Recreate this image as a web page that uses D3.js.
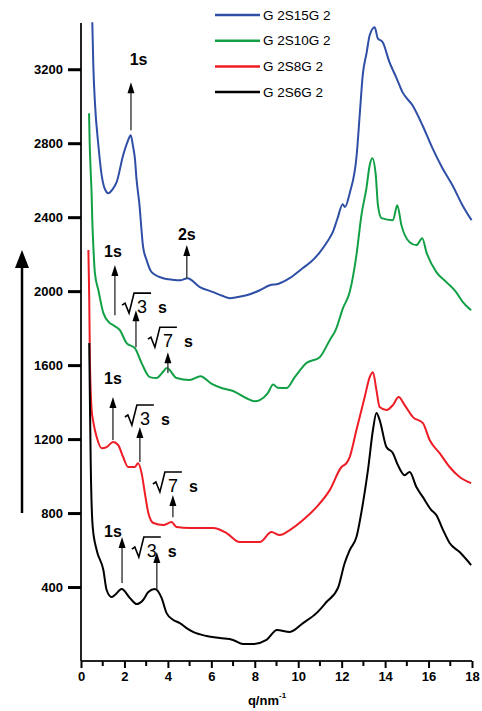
<!DOCTYPE html>
<html>
<head>
<meta charset="utf-8">
<script src="https://cdn.jsdelivr.net/npm/d3@7"></script>
<style>
  body { margin: 0; background: #fff; }
  svg { display: block; font-family: "Liberation Sans", Arial, sans-serif; }
</style>
</head>
<body>
<div id="chart"></div>
<script>
// series names (legend order)
const seriesNames = ["G 2S15G 2", "G 2S10G 2", "G 2S8G 2", "G 2S6G 2"];
const seriesColors = ["#2f4fa6", "#12a046", "#ee1c25", "#000000"];

// q (nm^-1), intensity
const g2s15g2 = [
  [0.52, 3454], [0.57, 3210], [0.64, 3022], [0.80, 2789], [0.95, 2627], [1.18, 2535],
  [1.26, 2530], [1.45, 2550], [1.64, 2589], [1.94, 2735], [2.15, 2810], [2.29, 2843],
  [2.40, 2780], [2.48, 2719], [2.56, 2600], [2.68, 2480], [2.86, 2238], [3.02, 2168],
  [3.25, 2103], [3.78, 2070], [4.2, 2062], [4.6, 2059], [4.9, 2070], [5.47, 2022],
  [6.08, 1995], [6.5, 1975], [6.85, 1962], [7.2, 1968], [7.62, 1978], [8.23, 2005],
  [8.69, 2032], [9.1, 2040], [9.6, 2070], [10.2, 2124], [10.6, 2160], [11.0, 2211],
  [11.35, 2270], [11.59, 2319], [11.8, 2390], [12.05, 2470], [12.15, 2455], [12.37, 2530],
  [12.69, 2735], [12.83, 2951], [12.97, 3168], [13.15, 3290], [13.29, 3384], [13.52, 3427],
  [13.66, 3368], [13.89, 3346], [14.2, 3238], [14.53, 3151], [14.8, 3076], [15.26, 3005],
  [15.72, 2897], [16.18, 2773], [16.64, 2665], [17.1, 2573], [17.56, 2465], [17.98, 2384]
];

const g2s10g2 = [
  [0.37, 2962], [0.40, 2800], [0.44, 2665], [0.49, 2519], [0.52, 2384], [0.57, 2238],
  [0.64, 2097], [0.80, 2005], [1.03, 1881], [1.33, 1827], [1.48, 1816], [1.79, 1789],
  [2.10, 1719], [2.48, 1692], [2.79, 1611], [3.17, 1535], [3.48, 1530], [3.75, 1560],
  [3.95, 1584], [4.4, 1530], [5.0, 1519], [5.5, 1540], [6.0, 1500], [6.5, 1475],
  [7.0, 1460], [7.6, 1422], [8.0, 1405], [8.23, 1411], [8.6, 1449], [8.85, 1495],
  [9.05, 1478], [9.46, 1476], [9.84, 1535], [10.38, 1611], [10.99, 1643], [11.45, 1735],
  [11.72, 1789], [12.06, 1908], [12.37, 1995], [12.68, 2195], [12.91, 2411], [13.14, 2557],
  [13.29, 2681], [13.41, 2719], [13.57, 2627], [13.67, 2465], [13.83, 2395], [14.36, 2384],
  [14.56, 2465], [14.75, 2357], [15.13, 2265], [15.44, 2249], [15.71, 2286], [15.90, 2211],
  [16.36, 2103], [16.82, 2049], [17.27, 1995], [17.58, 1941], [17.96, 1897]
];

const g2s8g2 = [
  [0.34, 2222], [0.38, 1951], [0.41, 1627], [0.49, 1357], [0.57, 1290], [0.72, 1211],
  [0.95, 1151], [1.18, 1157], [1.48, 1184], [1.71, 1168], [1.94, 1103], [2.17, 1049],
  [2.48, 1049], [2.63, 1070], [2.79, 1016], [2.94, 908], [3.10, 800], [3.33, 746],
  [3.79, 735], [4.17, 751], [4.40, 724], [5.01, 719], [5.62, 719], [6.08, 719],
  [6.70, 692], [7.31, 643], [8.08, 643], [8.23, 643], [8.77, 697], [9.15, 681],
  [9.61, 708], [10.22, 762], [10.84, 832], [11.45, 924], [11.99, 1049], [12.22, 1070],
  [12.37, 1103], [12.68, 1249], [13.06, 1427], [13.29, 1535], [13.44, 1562], [13.60, 1465],
  [13.75, 1373], [14.06, 1357], [14.36, 1384], [14.62, 1427], [14.90, 1384], [15.28, 1319],
  [15.74, 1286], [16.05, 1195], [16.51, 1124], [16.97, 1049], [17.43, 995], [17.96, 962]
];

const g2s6g2 = [
  [0.38, 1719], [0.41, 1411], [0.45, 1049], [0.54, 724], [0.72, 600], [1.03, 492],
  [1.18, 384], [1.41, 346], [1.56, 357], [1.87, 389], [2.25, 341], [2.56, 308],
  [2.86, 330], [3.10, 373], [3.40, 389], [3.71, 341], [3.94, 259], [4.25, 222],
  [4.55, 205], [4.86, 178], [5.16, 157], [5.78, 135], [6.39, 124], [7.00, 114],
  [7.46, 92], [7.92, 92], [8.54, 114], [9.02, 168], [9.61, 157], [10.22, 205],
  [10.84, 259], [11.30, 319], [11.83, 395], [12.14, 530], [12.37, 600], [12.68, 670],
  [12.98, 854], [13.21, 1032], [13.44, 1249], [13.60, 1341], [13.75, 1303], [14.06, 1157],
  [14.36, 1124], [14.59, 1059], [14.90, 1005], [15.13, 1022], [15.44, 941], [15.74, 886],
  [16.13, 816], [16.36, 789], [16.67, 708], [16.97, 638], [17.43, 589], [17.96, 519]
];

const seriesData = [g2s15g2, g2s10g2, g2s8g2, g2s6g2];

// peak markers: q, arrow base, arrow tip, root digit ("" = plain label), label q, label baseline
const peakMarks = [
  { q: 2.30, from: 2870, to: 3130, root: "", text: "1s", lq: 2.65, ly: 3222 },
  { q: 4.87, from: 2070, to: 2249, root: "", text: "2s", lq: 4.87, ly: 2276 },
  { q: 1.56, from: 1870, to: 2141, root: "", text: "1s", lq: 1.47, ly: 2184 },
  { q: 2.53, from: 1697, to: 1897, root: "3", text: "s", lq: 1.89, ly: 1881 },
  { q: 4.00, from: 1557, to: 1670, root: "7", text: "s", lq: 3.08, ly: 1697 },
  { q: 1.47, from: 1195, to: 1427, root: "", text: "1s", lq: 1.47, ly: 1497 },
  { q: 2.71, from: 1076, to: 1265, root: "3", text: "s", lq: 2.02, ly: 1276 },
  { q: 4.23, from: 778,  to: 897,  root: "7", text: "s", lq: 3.31, ly: 914 },
  { q: 1.89, from: 422,  to: 670,  root: "", text: "1s", lq: 1.47, ly: 670 },
  { q: 3.49, from: 389,  to: 589,  root: "3", text: "s", lq: 2.34, ly: 562 }
];

const yTicks = [400, 800, 1200, 1600, 2000, 2400, 2800, 3200];
const xTicks = [0, 2, 4, 6, 8, 10, 12, 14, 16, 18];

const W = 482, H = 711;
const svg = d3.select("#chart").append("svg")
  .attr("width", W).attr("height", H);

const x = d3.scaleLinear().domain([0, 18]).range([81, 472]);
const y = d3.scaleLinear().domain([0, 3450]).range([661, 23]);

// curves
const line = d3.line()
  .x(d => x(d[0])).y(d => y(d[1]))
  .curve(d3.curveMonotoneX);
svg.selectAll(".curve")
  .data(seriesData)
  .enter()
  .append("path")
  .attr("class", "curve")
  .attr("d", line)
  .attr("fill", "none")
  .attr("stroke", (d, i) => seriesColors[i])
  .attr("stroke-width", 2)
  .attr("stroke-linejoin", "round");

// y axis
const yAxis = svg.append("g")
  .attr("transform", `translate(${x(0)},0)`)
  .call(d3.axisLeft(y).tickValues(yTicks).tickSize(13).tickPadding(5).tickFormat(d3.format("d")));
yAxis.select(".domain").attr("stroke", "#222").attr("stroke-width", 2)
  .attr("d", `M0,${y(0)}V${y.range()[1]}`);
yAxis.selectAll(".tick line").attr("stroke", "#000").attr("stroke-width", 3);
yAxis.selectAll(".tick text")
  .style("font-size", "13px").style("font-weight", "bold").attr("fill", "#000");

// x axis
const xAxis = svg.append("g")
  .attr("transform", `translate(0,${y(0)})`)
  .call(d3.axisBottom(x).tickValues(xTicks).tickSize(7).tickPadding(4));
xAxis.select(".domain").attr("stroke", "#222").attr("stroke-width", 2)
  .attr("d", `M${x(0)},0H${x(18)}`);
xAxis.selectAll(".tick line").attr("stroke", "#000").attr("stroke-width", 2);
xAxis.selectAll(".tick text")
  .style("font-size", "13px").style("font-weight", "bold").attr("fill", "#000");
xAxis.selectAll(".minor")
  .data(d3.range(1, 18, 2))
  .enter()
  .append("line")
  .attr("x1", d => x(d)).attr("x2", d => x(d))
  .attr("y1", 0).attr("y2", 5)
  .attr("stroke", "#000").attr("stroke-width", 2);

// x label
const xLabel = svg.append("text")
  .attr("x", 267).attr("y", 705)
  .attr("text-anchor", "middle")
  .style("font-size", "13px").style("font-weight", "bold");
xLabel.append("tspan").text("q/nm");
xLabel.append("tspan").attr("dy", -7).style("font-size", "8px").text("-1");

// big arrow on the left
svg.append("line")
  .attr("x1", 22).attr("x2", 22)
  .attr("y1", 513).attr("y2", 262)
  .attr("stroke", "#000").attr("stroke-width", 2.5);
svg.append("path")
  .attr("d", "M15,268 L22,250 L29,268 Z")
  .attr("fill", "#000");

// peak arrows
svg.selectAll(".peak")
  .data(peakMarks)
  .enter()
  .append("line")
  .attr("class", "peak")
  .attr("x1", d => x(d.q)).attr("x2", d => x(d.q))
  .attr("y1", d => y(d.from)).attr("y2", d => y(d.to) + 6)
  .attr("stroke", "#444").attr("stroke-width", 1.5);
svg.selectAll(".peak-head")
  .data(peakMarks)
  .enter()
  .append("path")
  .attr("class", "peak-head")
  .attr("d", d => {
    const px = x(d.q), py = y(d.to);
    return `M${px - 3.5},${py + 11} L${px},${py} L${px + 3.5},${py + 11} Z`;
  })
  .attr("fill", "#000");

// peak labels
peakMarks.forEach(d => {
  const lx = x(d.lq), by = y(d.ly);
  if (!d.root) {
    svg.append("text")
      .attr("x", lx).attr("y", by)
      .attr("text-anchor", "middle")
      .style("font-size", "16px").style("font-weight", "bold")
      .text(d.text);
    return;
  }
  // radical sign drawn as a path
  svg.append("path")
    .attr("d", `M${lx},${by - 8} L${lx + 3},${by - 10} L${lx + 7},${by} L${lx + 12},${by - 20} H${lx + 29}`)
    .attr("fill", "none")
    .attr("stroke", "#000")
    .attr("stroke-width", 1.6)
    .attr("stroke-linejoin", "miter");
  svg.append("text")
    .attr("x", lx + 15).attr("y", by)
    .style("font-size", "18px")
    .text(d.root);
  svg.append("text")
    .attr("x", lx + 36).attr("y", by)
    .style("font-size", "16px").style("font-weight", "bold")
    .text(d.text);
});

// legend
const legend = svg.selectAll(".legend")
  .data(seriesNames)
  .enter()
  .append("g")
  .attr("class", "legend")
  .attr("transform", (d, i) => `translate(215,${15 + i * 25.7})`);
legend.append("line")
  .attr("x1", 0).attr("x2", 45)
  .attr("stroke", (d, i) => seriesColors[i])
  .attr("stroke-width", 2.5);
legend.append("text")
  .attr("x", 48).attr("dy", "0.35em")
  .style("font-size", "13.5px")
  .text(d => d);
</script>
</body>
</html>
